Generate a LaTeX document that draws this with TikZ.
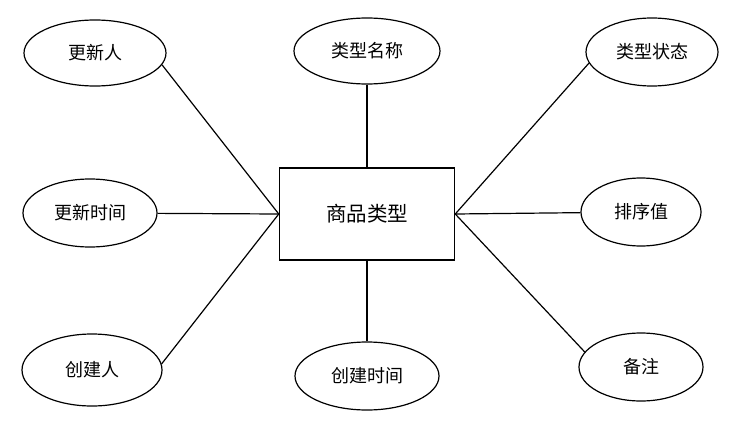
\documentclass[tikz,border=0pt]{standalone}
\usepackage{fontspec}
\setmainfont{Noto Sans CJK SC}
\usetikzlibrary{shapes.geometric}
\begin{document}
\begin{tikzpicture}[x=1pt,y=-1pt,
  attr/.style={draw,line width=1.2pt,ellipse,inner sep=0pt,font=\fontsize{18}{20}\selectfont},
  ent/.style={draw,line width=1.5pt,rectangle,minimum width=175pt,minimum height=92pt,inner sep=0pt,font=\fontsize{20.5}{22}\selectfont},
  conn/.style={line width=1.2pt}]
\useasboundingbox (0,0) rectangle (746,420);
\node[ent] (box) at (367,214) {商品类型};
\node[attr,minimum width=142pt,minimum height=66pt] (a1) at (95,53) {更新人};
\node[attr,minimum width=146pt,minimum height=66pt] (a2) at (367,51) {类型名称};
\node[attr,minimum width=132pt,minimum height=68pt] (a3) at (652,52) {类型状态};
\node[attr,minimum width=134pt,minimum height=68pt] (a4) at (90,213) {更新时间};
\node[attr,minimum width=120pt,minimum height=68pt] (a5) at (641,212) {排序值};
\node[attr,minimum width=140pt,minimum height=72pt] (a6) at (92,370) {创建人};
\node[attr,minimum width=144pt,minimum height=68pt] (a7) at (367,376) {创建时间};
\node[attr,minimum width=124pt,minimum height=68pt] (a8) at (641,367) {备注};
\draw[conn] (a1.-10) -- (box.west);
\draw[conn] (a4) -- (box.west);
\draw[conn] (a6.5) -- (box.west);
\draw[conn] (a3.190) -- (box.east);
\draw[conn] (a5) -- (box.east);
\draw[conn] (a8.165) -- (box.east);
\draw[conn] (a2) -- (box);
\draw[conn] (a7) -- (box);
\end{tikzpicture}
\end{document}
